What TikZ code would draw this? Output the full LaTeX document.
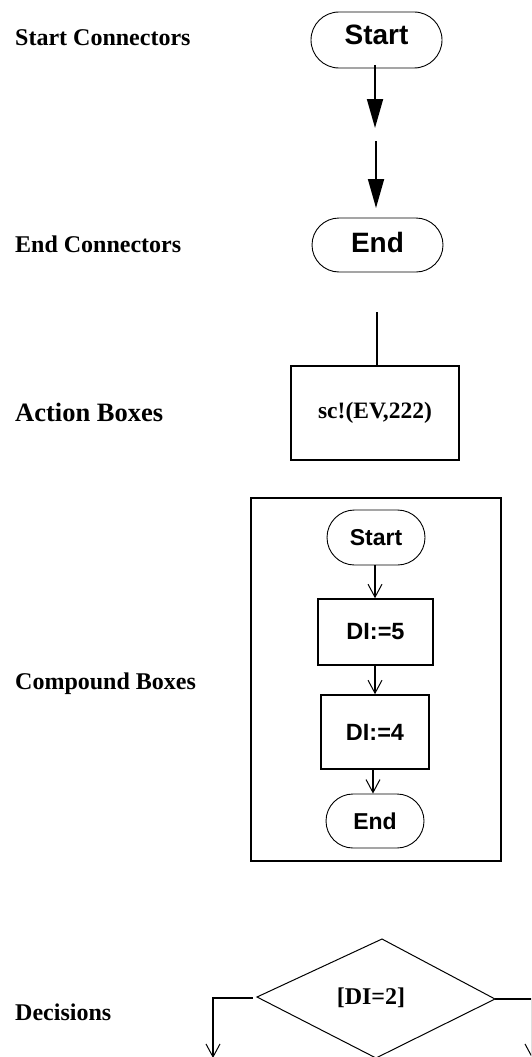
\documentclass[tikz,border=0pt]{standalone}
\usepackage{fontspec}
\setmainfont{Liberation Serif}
\newfontfamily\sansf{Liberation Sans}
\usetikzlibrary{arrows.meta,shapes.misc}
\begin{document}
\begin{tikzpicture}[x=1pt,y=-1pt,
  lbl/.style={anchor=base west,font=\bfseries\fontsize{24}{28}\selectfont,inner sep=0},
  term/.style={draw,rounded rectangle,line width=0.9pt,font=\sansf\bfseries\fontsize{28}{32}\selectfont,inner sep=0},
  iterm/.style={draw,rounded rectangle,line width=0.9pt,font=\sansf\bfseries\fontsize{23}{27}\selectfont,inner sep=0},
  actbox/.style={draw,line width=1.8pt,inner sep=0,font=\bfseries\fontsize{23.5}{27}\selectfont},
  ibox/.style={draw,line width=1.6pt,inner sep=0,font=\sansf\bfseries\fontsize{23.5}{27}\selectfont},
  bigarrow/.style={line width=1.8pt,-{Triangle[length=29pt,width=16pt]}},
  smallarrow/.style={line width=1.5pt,-{Straight Barb[length=13pt,width=14pt,line width=1pt]}}
]
\useasboundingbox (0,0) rectangle (531,1057);
\clip (0,0) rectangle (531,1057);

% labels
\node[lbl] (l1) at (15,46) {Start Connectors};
\node[lbl] (l2) at (15,252) {End Connectors};
\node[lbl,font=\bfseries\fontsize{26.5}{30}\selectfont] (l3) at (15,421) {Action Boxes};
\node[lbl] (l4) at (15,689) {Compound Boxes};
\node[lbl] (l5) at (15,1020) {Decisions};

% start / end connectors
\node[term,minimum width=131pt,minimum height=56pt,text depth=10pt] (st) at (376.5,40) {Start};
\coordinate (a1) at (375,128);
\draw[bigarrow] (375,65) -- (a1);
\coordinate (a2s) at (376,141);
\coordinate (a2e) at (376,208);
\draw[bigarrow] (a2s) -- (a2e);
\node[term,minimum width=131pt,minimum height=54pt,text depth=5pt] (en) at (377.5,245) {End};

% action box
\node[actbox,minimum width=168pt,minimum height=94pt] (act) at (375,413) {sc!(EV,222)};
\coordinate (actin) at (377,312);
\draw[line width=1.8pt] (actin) -- (actin |- act.north);

% compound box
\node[draw,line width=1.8pt,minimum width=250pt,minimum height=363pt,inner sep=0] (comp) at (376,679.5) {};
\node[iterm,minimum width=98pt,minimum height=55pt] (ist) at (376,537.5) {Start};
\node[ibox,minimum width=115pt,minimum height=66pt] (d5) at (375.5,632) {DI:=5};
\node[ibox,minimum width=108pt,minimum height=74pt] (d4) at (375,732) {DI:=4};
\node[iterm,minimum width=98pt,minimum height=54pt] (ien) at (375,821) {End};
\draw[smallarrow] (ist.south -| 375,0) -- (d5.north -| 375,0);
\draw[smallarrow] (d5.south -| 375,0) -- (d4.north -| 375,0);
\draw[smallarrow] (d4.south -| 373,0) -- (ien.north -| 373,0);

% decision
\coordinate (dt) at (382,939);
\coordinate (dl) at (257,997);
\coordinate (dr) at (495,999);
\coordinate (db) at (376,1058);
\draw[line width=1pt] (dt) -- (dr) -- (db) -- (dl) -- cycle;
\node[font=\bfseries\fontsize{24}{28}\selectfont,inner sep=0] (dtxt) at (371,998) {[DI=2]};
\coordinate (lb) at (213,1058);
\draw[smallarrow] (253,998) -| (lb);
\coordinate (rb) at (532,1058);
\draw[smallarrow] (dr) -| (rb);
\end{tikzpicture}
\end{document}
